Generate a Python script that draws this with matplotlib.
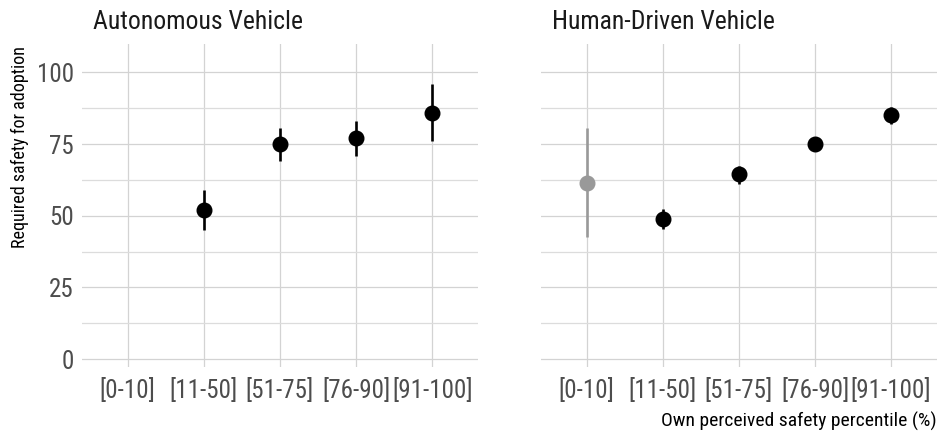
import matplotlib
matplotlib.use("Agg")
import matplotlib.pyplot as plt
import matplotlib.transforms as mtransforms
from matplotlib.ticker import MultipleLocator

plt.rcParams['font.family'] = ['Roboto Condensed', 'Liberation Sans Narrow', 'DejaVu Sans Condensed', 'Roboto', 'DejaVu Sans']

# data
categories = ['[0-10]', '[11-50]', '[51-75]', '[76-90]', '[91-100]']

av_mean = [None, 52, 75, 77, 86]
av_low = [None, 45, 69, 71, 76]
av_high = [None, 59, 80.5, 83, 96]

hd_mean = [61.5, 49, 64.5, 75, 85]
hd_low = [42.5, 45.5, 61, 74, 82]
hd_high = [80.5, 52.5, 67.5, 76, 88]
hd_colors = ['#999999', 'black', 'black', 'black', 'black']

panels = [
    ('Autonomous Vehicle', av_mean, av_low, av_high, ['black'] * 5),
    ('Human-Driven Vehicle', hd_mean, hd_low, hd_high, hd_colors),
]

fig = plt.figure(figsize=(9.39, 4.34), dpi=100)
positions = [
    [0.0873, 0.154, 0.4217, 0.745],
    [0.576, 0.154, 0.4217, 0.745],
]

for i, (title, mean, low, high, colors) in enumerate(panels):
    ax = fig.add_axes(positions[i])
    xs = list(range(1, len(categories) + 1))
    for x, m, lo, hi, c in zip(xs, mean, low, high, colors):
        if m is None:
            continue
        ax.plot([x, x], [lo, hi], color=c, linewidth=1.9, solid_capstyle='butt', zorder=3)
        ax.plot(x, m, 'o', color=c, markersize=10.5, zorder=4)

    ax.set_xlim(0.4, 5.6)
    ax.set_ylim(-2.8, 110)
    ax.set_xticks(xs)
    ax.set_xticklabels(categories)
    ax.yaxis.set_minor_locator(MultipleLocator(12.5))
    ax.set_yticks([0, 25, 50, 75, 100])

    ax.grid(True, which='major', color='#d3d3d3', linewidth=0.9)
    ax.grid(True, which='minor', axis='y', color='#dcdcdc', linewidth=0.9)
    ax.set_axisbelow(True)
    for s in ax.spines.values():
        s.set_visible(False)
    ax.tick_params(which='both', length=0, labelsize=18, labelcolor='#4d4d4d')
    ax.tick_params(axis='x', pad=8)
    ax.tick_params(axis='y', pad=6)
    if i == 1:
        ax.tick_params(axis='y', labelleft=False)

    offset = mtransforms.ScaledTranslation(11 / 100, 10 / 100, fig.dpi_scale_trans)
    ax.text(0, 1, title, transform=ax.transAxes + offset, fontsize=18.5,
            ha='left', va='bottom', color='#1a1a1a')

fig.text(0.012, 0.893, 'Required safety for adoption', rotation=90,
         ha='left', va='top', fontsize=13)
fig.text(0.997, 0.008, 'Own perceived safety percentile (%)', ha='right', va='bottom', fontsize=14)

fig.savefig('out.png', dpi=100)
